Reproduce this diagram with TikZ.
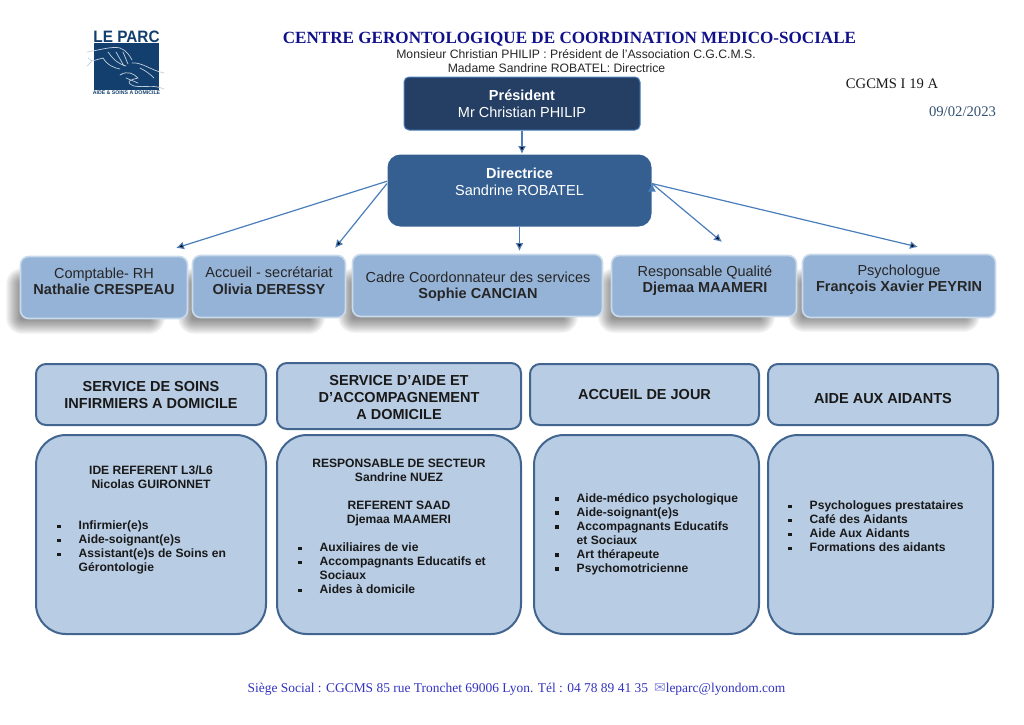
\documentclass[tikz,border=0pt]{standalone}
\usepackage{fontspec}
\setmainfont{Liberation Sans}
\newfontfamily\titlefont{Liberation Serif}
\newfontfamily\symbolfont{DejaVu Sans}
\usepackage{xcolor}
\definecolor{presfill}{HTML}{243F63}
\definecolor{dirfill}{HTML}{355F91}
\definecolor{rowfill}{HTML}{95B3D7}
\definecolor{rowedge}{HTML}{C9DAEC}
\definecolor{servfill}{HTML}{B8CCE4}
\definecolor{servedge}{HTML}{41658F}
\definecolor{arrowblue}{HTML}{4A7EBB}
\definecolor{titleblue}{HTML}{10108A}
\definecolor{footblue}{HTML}{3232C0}
\definecolor{logoblue}{HTML}{123F6E}
\usetikzlibrary{arrows.meta}
\newcommand{\puce}{\makebox[21.5pt][l]{\rule[1.5pt]{3.5pt}{3.5pt}}}
\newcommand{\suite}{\hspace*{21.5pt}}

\begin{document}
\begin{tikzpicture}[x=1pt,y=-1pt,
  topbox/.style={rounded corners=5pt,draw=arrowblue,line width=1pt,fill=presfill,minimum width=236pt,minimum height=53pt,
    text=white,align=center,font=\fontsize{14.5}{17}\selectfont},
  rowbox/.style={rounded corners=8pt,draw=rowedge,line width=1.6pt,fill=rowfill},
  rowtext/.style={align=center,text=black!85,font=\fontsize{14.5}{16.5}\selectfont},
  servbox/.style={rounded corners=10pt,draw=servedge,line width=2pt,fill=servfill},
  servtext/.style={align=center,text=black!90,font=\bfseries\fontsize{14.5}{17}\selectfont},
  bodybox/.style={rounded corners=30pt,draw=servedge,line width=2pt,fill=servfill},
  bodytext/.style={align=center,text=black!90,inner sep=0pt,font=\bfseries\fontsize{12.1}{14}\selectfont},
  bodylist/.style={align=left,anchor=north west,text=black!90,inner sep=0pt,font=\bfseries\fontsize{12.1}{14}\selectfont},
  link/.style={draw=arrowblue,line width=1.2pt,-{Latex[length=8pt,width=8pt]}}]
\useasboundingbox (0,0) rectangle (1024,724);

% logo
\fill[logoblue] (94,43) rectangle (159,90);
\node[font=\bfseries\fontsize{16.5}{16}\selectfont,text=logoblue,inner sep=0pt] (LogoName) at (126.5,37) {\scalebox{.93}[1]{LE PARC}};
\node[font=\bfseries\fontsize{5.2}{5}\selectfont,text=logoblue,inner sep=0pt] (LogoLine) at (126.5,92.5) {AIDE \& SOINS A DOMICILE};
\draw[white!75!logoblue,line width=0.7pt,line cap=round] (87,52) .. controls (100,50) and (112,46) .. (120,48)
  .. controls (126,50) and (130,56) .. (132,60) (87,66) -- (92,61) (88,58) -- (92,61) -- (103,58)
  .. controls (108,66) and (115,68) .. (120,69) (108,52) .. controls (112,58) and (118,64) .. (126,66)
  (116,52) -- (124,66) (123,52) -- (128,64) (132,63) .. controls (142,62) and (150,70) .. (164,73)
  (140,68) .. controls (148,72) and (152,76) .. (154,78) (120,75) .. controls (128,70) and (134,74) .. (138,78)
  .. controls (130,80) and (124,82) .. (134,86) (126,78) -- (138,83) (134,86) .. controls (146,88) and (152,84) .. (164,89);

% header
\node[font=\bfseries\fontsize{17.1}{20}\selectfont\titlefont,text=titleblue,inner sep=0pt] (Title) at (569.5,39) {CENTRE GERONTOLOGIQUE DE COORDINATION MEDICO-SOCIALE};
\node[font=\fontsize{12.2}{14}\selectfont,text=black!85,inner sep=0pt] (Assoc) at (576,54) {Monsieur Christian PHILIP : Président de l’Association C.G.C.M.S.};
\node[font=\fontsize{12.2}{14}\selectfont,text=black!85,inner sep=0pt] (Direct) at (556.5,68) {Madame Sandrine ROBATEL: Directrice};
\node[font=\fontsize{14.6}{16}\selectfont\titlefont,text=black!90,inner sep=0pt] (Ref) at (892,84) {CGCMS I 19 A};
\node[font=\fontsize{14.7}{16}\selectfont\titlefont,text=servedge!80!black,inner sep=0pt] (Date) at (962.5,112) {09/02/2023};

% top of the chart
\node[topbox] (President) at (522,103.5) {\textbf{Président}\\Mr Christian PHILIP};
\node[topbox,rounded corners=13pt,draw=none,fill=dirfill,minimum width=264pt,minimum height=72pt] (Directrice) at (519.5,190.5) {};
\node[rowtext,text=white,font=\fontsize{14.5}{17}\selectfont] (DirectriceText) at (519.5,181.5) {\textbf{Directrice}\\Sandrine ROBATEL};

% shadows of the row
\foreach \xa/\ya/\xb/\yb in {20/282/151/320, 192/282/311/320, 352/282/564/319, 612/282/761/319, 802/282/966/318}
  \foreach \r in {0,1,...,14}
    \fill[black,opacity=0.036,rounded corners=\r pt+2pt] (\xa-\r,\ya-\r) rectangle (\xb+\r,\yb+\r);

% row
\node[rowbox,minimum width=167pt,minimum height=62pt] (Comptable) at (104,287.5) {};
\node[rowbox,minimum width=153pt,minimum height=62pt] (Accueil) at (269,286.5) {};
\node[rowbox,minimum width=250pt,minimum height=62pt] (Cadre) at (477.5,285.5) {};
\node[rowbox,minimum width=185pt,minimum height=61pt] (Qualite) at (704,286) {};
\node[rowbox,minimum width=193pt,minimum height=63pt] (Psycho) at (899,286) {};
\node[rowtext] (ComptableText) at (104,281.5) {Comptable- RH\\\textbf{Nathalie CRESPEAU}};
\node[rowtext] (AccueilText) at (269,280.5) {Accueil - secrétariat\\\textbf{Olivia DERESSY}};
\node[rowtext] (CadreText) at (478,286.5) {Cadre Coordonnateur des services\\\textbf{Sophie CANCIAN}};
\node[rowtext] (QualiteText) at (705,280.5) {Responsable Qualité\\\textbf{Djemaa MAAMERI}};
\node[rowtext] (PsychoText) at (899,279.5) {Psychologue\\\textbf{François Xavier PEYRIN}};

% free ends of the arrows
\coordinate (toComptable) at (176,248);
\coordinate (toAccueil) at (335,248);
\coordinate (toCadre) at (519.5,251);
\coordinate (toQualite) at (722,242);
\coordinate (toPsycho) at (918,247);
\path[link]
(President.south) edge (President.south |- Directrice.north)
(Directrice.176) edge (toComptable)
(Directrice.177) edge (toAccueil)
(Directrice.south) edge (toCadre)
(Directrice.3) edge (toQualite)
(Directrice.3) edge (toPsycho);

% services
\node[servbox,servtext,minimum width=230pt,minimum height=61pt] (Soins) at (151,394.5) {SERVICE DE SOINS\\INFIRMIERS A DOMICILE};
\node[servbox,minimum width=244pt,minimum height=66pt] (Aide) at (399,396) {};
\node[servbox,servtext,minimum width=229pt,minimum height=61pt] (Jour) at (644.5,394.5) {ACCUEIL DE JOUR};
\node[servbox,minimum width=230pt,minimum height=61pt] (Aidants) at (883,394.5) {};
\node[servtext] (AideText) at (399,397.5) {SERVICE D’AIDE ET\\D’ACCOMPAGNEMENT\\A DOMICILE};
\node[servtext] (AidantsText) at (883,398) {AIDE AUX AIDANTS};

\node[bodybox,minimum width=230pt,minimum height=199pt] (SoinsBody) at (151,534.5) {};
\node[bodybox,minimum width=244pt,minimum height=199pt] (AideBody) at (399,534.5) {};
\node[bodybox,minimum width=225pt,minimum height=199pt] (JourBody) at (646.5,534.5) {};
\node[bodybox,minimum width=225pt,minimum height=199pt] (AidantsBody) at (880.5,534.5) {};

\node[bodytext] (SoinsRef) at (151,477) {IDE REFERENT L3/L6\\Nicolas GUIRONNET};
\node[bodylist] (SoinsList) at (57,521) {\puce Infirmier(e)s\\\puce Aide-soignant(e)s\\\puce Assistant(e)s de Soins en\\\suite Gérontologie};
\node[bodytext] (AideRef) at (399,493) {RESPONSABLE DE SECTEUR\\Sandrine NUEZ\\[14pt]REFERENT SAAD\\Djemaa MAAMERI};
\node[bodylist] (AideList) at (298,543) {\puce Auxiliaires de vie\\\puce Accompagnants Educatifs et\\\suite Sociaux\\\puce Aides à domicile};
\node[bodylist] (JourList) at (555,493) {\puce Aide-médico psychologique\\\puce Aide-soignant(e)s\\\puce Accompagnants Educatifs\\\suite et Sociaux\\\puce Art thérapeute\\\puce Psychomotricienne};
\node[bodylist] (AidantsList) at (788,501) {\puce Psychologues prestataires\\\puce Café des Aidants\\\puce Aide Aux Aidants\\\puce Formations des aidants};

% footer
\node[font=\fontsize{13.45}{15}\selectfont\titlefont,text=footblue,inner sep=0pt] (Footer) at (516.5,689) {Siège Social : CGCMS 85 rue Tronchet 69006 Lyon. Tél : 04 78 89 41 35\hspace{6pt}{\symbolfont\fontsize{14}{15}\selectfont\color{footblue!60}\char"2709}leparc@lyondom.com};
\end{tikzpicture}
\end{document}
